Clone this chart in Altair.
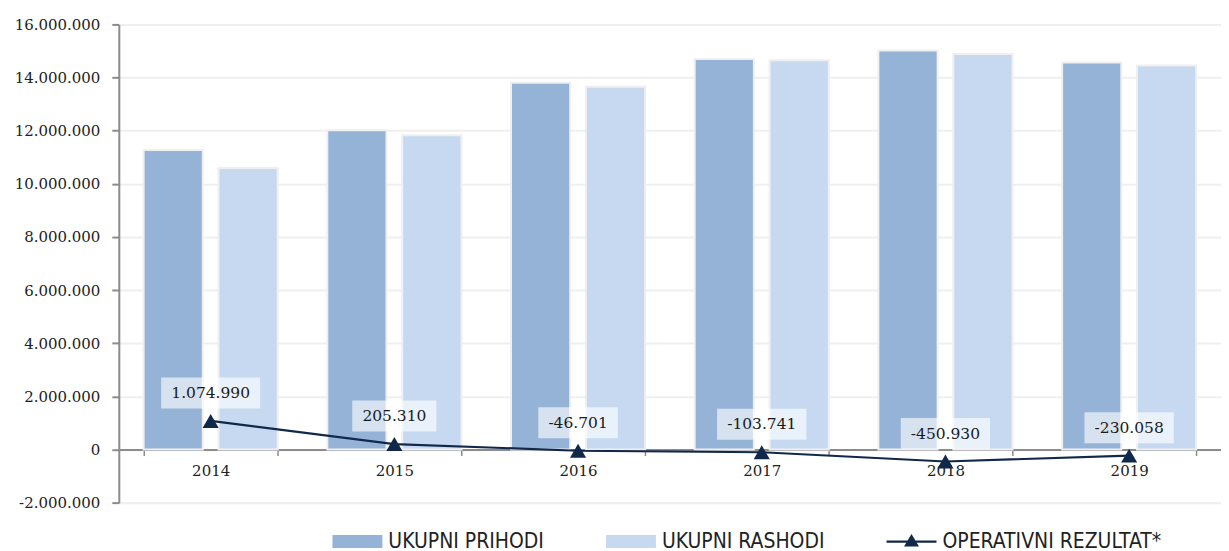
import altair as alt
import pandas as pd

years = ["2014", "2015", "2016", "2017", "2018", "2019"]
prihodi = [11270000, 12020000, 13800000, 14700000, 15020000, 14570000]
rashodi = [10600000, 11830000, 13650000, 14650000, 14890000, 14450000]
operativni = [1074990, 205310, -46701, -103741, -450930, -230058]
series_names = ["UKUPNI PRIHODI", "UKUPNI RASHODI", "OPERATIVNI REZULTAT*"]
y_ticks = [-2000000, 0, 2000000, 4000000, 6000000, 8000000, 10000000, 12000000, 14000000, 16000000]

W, H = 1104, 479
SERIF = "DejaVu Serif"
COND = "DejaVu Sans Condensed, Liberation Sans Narrow, Roboto Condensed, DejaVu Sans, sans-serif"
NAVY = "#10284a"


def fmt(v):
    return f"{v:,}".replace(",", ".")


def text_w(s):
    w = {".": 4.9, "-": 5.2}
    return sum(w.get(c, 9.9) for c in s)


def box_path(label):
    half = (text_w(label) + 20) / 50.0
    return f"M{-half:.3f},-0.62H{half:.3f}V0.62H{-half:.3f}Z"


bars_df = pd.DataFrame(
    [{"year": y, "series": series_names[0], "value": v} for y, v in zip(years, prihodi)]
    + [{"year": y, "series": series_names[1], "value": v} for y, v in zip(years, rashodi)]
)
line_df = pd.DataFrame({
    "year": years,
    "value": operativni,
    "label": [fmt(v) for v in operativni],
})
line_df["box"] = line_df["label"].map(box_path)
legend_df = pd.DataFrame({"series": series_names, "value": [None] * 3})

bar_colors = ["#95b3d7", "#c6d9f1"]
rect_sym = "M-1,-0.26H1V0.26H-1Z"
line_sym = "M-1,-0.045H1V0.045H-1Z M0,-0.3L0.3,0.2L-0.3,0.2Z"

label_expr = "replace(replace(replace(format(datum.value, ',d'), ',', '.'), ',', '.'), '\u2212', '-')"

y_enc = alt.Y(
    "value:Q",
    scale=alt.Scale(domain=[-2000000, 16000000], nice=False, zero=False),
    axis=alt.Axis(
        title=None, values=y_ticks, labelExpr=label_expr,
        labelFont=SERIF, labelFontSize=15, labelColor="#222222",
        domainColor="#8c8c8c", domainWidth=2, tickColor="#8c8c8c", tickWidth=2, tickSize=7,
        labelPadding=12, gridColor="#efefef", gridWidth=2,
    ),
)
x_enc = alt.X(
    "year:N", sort=years,
    scale=alt.Scale(paddingInner=0.27, paddingOuter=0.135),
    axis=alt.Axis(
        title=None, labelAngle=0, labelFont=SERIF, labelFontSize=15, labelColor="#222222",
        domainColor="#8c8c8c", domainWidth=2, tickColor="#8c8c8c", tickWidth=1.5, tickSize=6,
        tickBand="extent", labelPadding=8, offset=-H * 2 / 18, grid=False,
    ),
)

bars = alt.Chart(bars_df).mark_bar(stroke="#efefef", strokeWidth=2).encode(
    x=x_enc,
    xOffset=alt.XOffset("series:N", sort=series_names[:2], scale=alt.Scale(paddingInner=0.21, paddingOuter=0)),
    y=y_enc,
    fill=alt.Fill("series:N", scale=alt.Scale(domain=series_names[:2], range=bar_colors), legend=None),
)

line = alt.Chart(line_df).mark_line(color=NAVY, strokeWidth=2.2).encode(
    x=alt.X("year:N", sort=years), y="value:Q"
)
markers = alt.Chart(line_df).mark_point(shape="triangle-up", filled=True, size=260, color=NAVY, opacity=1).encode(
    x=alt.X("year:N", sort=years), y="value:Q"
)
boxes = alt.Chart(line_df).mark_point(filled=True, color="white", opacity=0.62, size=2500, yOffset=-28, strokeWidth=0).encode(
    x=alt.X("year:N", sort=years), y="value:Q", shape=alt.Shape("box:N", scale=None)
)
labels = alt.Chart(line_df).mark_text(dy=-28, font=SERIF, fontSize=15.5, color="#1a1a1a").encode(
    x=alt.X("year:N", sort=years), y="value:Q", text="label:N"
)

leg = alt.Legend(
    title=None, orient="none", legendX=214, legendY=493, direction="horizontal",
    symbolSize=2500, symbolStrokeWidth=0, labelFont=COND, labelFontSize=21,
    labelColor="#222222", labelOffset=6, columnPadding=62, labelLimit=400,
)
legend_layer = alt.Chart(legend_df).mark_point(filled=True, opacity=1).encode(
    y="value:Q",
    color=alt.Color("series:N", scale=alt.Scale(domain=series_names, range=bar_colors + [NAVY]), legend=leg),
    shape=alt.Shape("series:N", scale=alt.Scale(domain=series_names, range=[rect_sym, rect_sym, line_sym]), legend=leg),
)

chart = alt.layer(bars, line, markers, boxes, labels, legend_layer).resolve_scale(
    fill="independent", color="independent", shape="independent"
).properties(
    width=W, height=H, padding={"left": 6, "top": 9, "right": 0, "bottom": 0}
).configure_view(stroke=None).configure(background="white")

chart.save("out.html", embed_options={"renderer": "svg", "actions": False})
